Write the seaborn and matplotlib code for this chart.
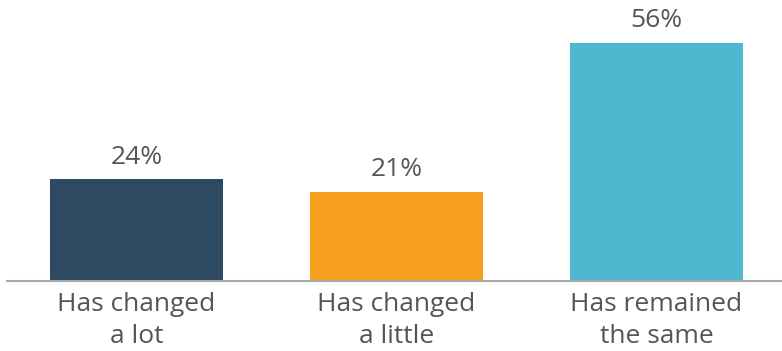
import matplotlib
matplotlib.use("Agg")
import matplotlib.pyplot as plt
import seaborn as sns
import pandas as pd

categories = ["Has changed\na lot", "Has changed\na little", "Has remained\nthe same"]
values = [24, 21, 56]
colors = ["#2E4A62", "#F7A01F", "#4DB8D0"]

sns.set_theme(style="white")
plt.rcParams["font.family"] = ["Open Sans", "DejaVu Sans"]

df = pd.DataFrame({"category": categories, "value": values})

fig = plt.figure(figsize=(7.82, 3.51), dpi=100)
ax = fig.add_axes([7 / 782, 70 / 351, 775 / 782, 281 / 351])

sns.barplot(data=df, x="category", y="value", hue="category", palette=colors,
            width=0.665, legend=False, ax=ax, saturation=1, linewidth=0)

ax.set_xlim(-0.498, 2.483)
ax.set_ylim(0, 66)

for i, v in enumerate(values):
    ax.annotate(f"{v}%", (i, v), xytext=(0, 11), textcoords="offset points",
                ha="center", va="baseline", fontsize=19, color="#555555")

for side in ["left", "right", "top"]:
    ax.spines[side].set_visible(False)
ax.spines["bottom"].set_color("#A8A8A8")
ax.spines["bottom"].set_linewidth(1.5)

ax.set_yticks([])
ax.set_xlabel("")
ax.set_ylabel("")
ax.tick_params(axis="x", length=0, pad=8, labelsize=19, labelcolor="#555555")
for lbl in ax.get_xticklabels():
    lbl.set_linespacing(1.35)

fig.savefig("out.png", dpi=100)
